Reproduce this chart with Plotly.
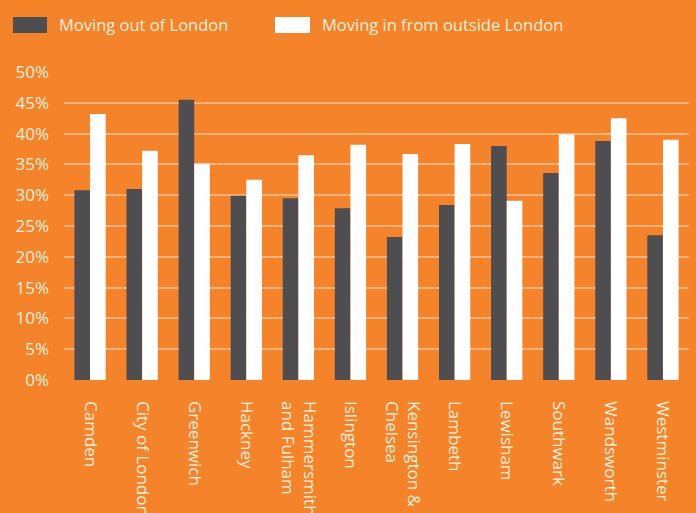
import plotly.graph_objects as go

boroughs = ["Camden", "City of London", "Greenwich", "Hackney", "Hammersmith<br>and Fulham",
            "Islington", "Kensington &<br>Chelsea", "Lambeth", "Lewisham", "Southwark",
            "Wandsworth", "Westminster"]
moving_out = [30.8, 31.0, 45.5, 29.9, 29.5, 27.9, 23.2, 28.4, 38.0, 33.6, 38.8, 23.5]
moving_in = [43.2, 37.2, 35.1, 32.5, 36.5, 38.2, 36.7, 38.3, 29.1, 39.9, 42.5, 39.0]
y_ticks = [0, 5, 10, 15, 20, 25, 30, 35, 40, 45, 50]
y_tick_labels = [f"{v}%" for v in y_ticks]
series_names = ["Moving out of London", "Moving in from outside London"]

BG = "#f4832a"
DARK = "#4e4e50"
WHITE = "#ffffff"
TEXT = "#fdf0de"
GRID = "#f8b47c"
FONT = "Open Sans, Noto Sans, sans-serif"

W, H = 696, 513
ML, MR, MT, MB = 64, 7, 72, 133
PW, PH = W - ML - MR, H - MT - MB

fig = go.Figure()
fig.add_trace(go.Bar(x=boroughs, y=moving_out, name=series_names[0], marker_color=DARK,
                     marker_line_width=0, showlegend=False))
fig.add_trace(go.Bar(x=boroughs, y=moving_in, name=series_names[1], marker_color=WHITE,
                     marker_line_width=0, showlegend=False))

def pxx(x):
    return (x - ML) / PW
def pyy(y):
    return 1 + (MT - y) / PH

# manual legend
legend_items = [(13, 47, 60, series_names[0], DARK), (275, 310, 323, series_names[1], WHITE)]
shapes = []
annotations = []
for x0, x1, tx, name, col in legend_items:
    shapes.append(dict(type="rect", xref="paper", yref="paper",
                       x0=pxx(x0), x1=pxx(x1), y0=pyy(17), y1=pyy(33),
                       fillcolor=col, line_width=0))
    annotations.append(dict(xref="paper", yref="paper", x=pxx(tx - 3), y=pyy(25),
                            text=name, showarrow=False, xanchor="left", yanchor="middle",
                            font=dict(family=FONT, size=16.5, color=TEXT)))

fig.update_layout(
    width=W, height=H,
    paper_bgcolor=BG, plot_bgcolor=BG,
    margin=dict(l=ML, r=MR, t=MT, b=MB, autoexpand=False),
    barmode="group", bargap=0.4, bargroupgap=0,
    font=dict(family=FONT, size=17, color=TEXT),
    shapes=shapes, annotations=annotations,
    xaxis=dict(tickangle=90, showgrid=False, showline=False, ticks="", automargin=False,
               ticklabelstandoff=20, tickfont=dict(size=17, color=TEXT)),
    yaxis=dict(range=[0, 50], tickvals=y_ticks, ticktext=y_tick_labels, automargin=False,
               showgrid=True, gridcolor=GRID, gridwidth=2, zeroline=False,
               showline=False, ticks="", ticklabelstandoff=14,
               tickfont=dict(size=17, color=TEXT)),
)

fig.write_html("out.html", config={"displayModeBar": False})

# remove default page margin so the figure fills the window
with open("out.html", "r", encoding="utf-8") as f:
    html = f.read()
html = html.replace("<head>", "<head><style>html,body{margin:0;padding:0;overflow:hidden;background:%s;}</style>" % BG, 1)
with open("out.html", "w", encoding="utf-8") as f:
    f.write(html)
